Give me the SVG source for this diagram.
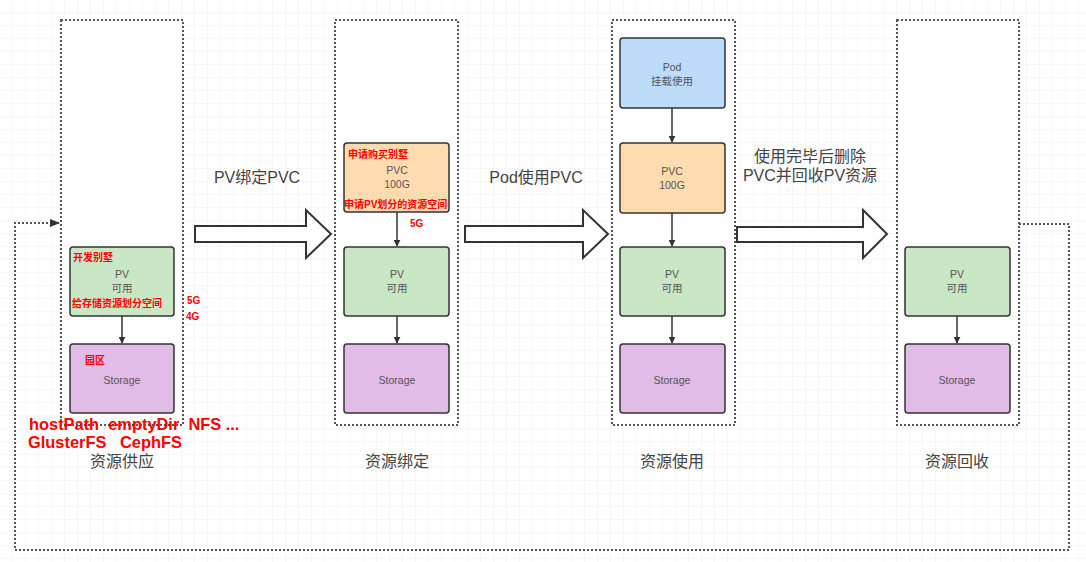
<svg xmlns="http://www.w3.org/2000/svg" width="1086" height="562" viewBox="0 0 1086 562">
<defs>
<pattern id="grid" width="13" height="13" patternUnits="userSpaceOnUse">
<path d="M13 0V13H0" fill="none" stroke="#eeeeee" stroke-width="1"/>
</pattern>
<marker id="ah" viewBox="0 0 10 10" refX="9" refY="5" markerWidth="7" markerHeight="7" orient="auto" markerUnits="userSpaceOnUse">
<path d="M0 0L10 5L0 10z" fill="#333"/>
</marker>
<marker id="ah2" viewBox="0 0 10 10" refX="9" refY="5" markerWidth="10" markerHeight="10" orient="auto" markerUnits="userSpaceOnUse">
<path d="M0 1L10 5L0 9z" fill="#333"/>
</marker>
<style>
.cont{fill:#fff;stroke:#555;stroke-width:2;stroke-dasharray:2 2}
.box{stroke:#333;stroke-width:1.5}
.pv{fill:#c9e6c5}
.st{fill:#e0bce6}
.pvc{fill:#fedcb0}
.pod{fill:#bcdcfa}
.t{font-family:"Liberation Sans","Noto Sans CJK SC",sans-serif;fill:#555;font-size:10.5px;text-anchor:middle}
.lbl{font-family:"Liberation Sans","Noto Sans CJK SC",sans-serif;fill:#444;font-size:16px;text-anchor:middle}
.r{font-family:"Liberation Sans","Noto Sans CJK SC",sans-serif;fill:#ff0000;font-weight:bold;font-size:10px}
.rb{font-family:"Liberation Sans","Noto Sans CJK SC",sans-serif;fill:#ff0000;font-weight:bold;font-size:16.4px}
.big{fill:#fff;stroke:#333;stroke-width:2}
.ln{stroke:#333;stroke-width:1.5;fill:none}
</style>
</defs>
<rect width="1086" height="562" fill="#fff"/>
<rect width="1086" height="562" fill="url(#grid)"/>

<g id="containers">
<rect class="cont" x="61" y="20" width="122" height="405"/>
<rect class="cont" x="335" y="20" width="123" height="405"/>
<rect class="cont" x="612" y="20" width="123" height="405"/>
<rect class="cont" x="897" y="20" width="122" height="405"/>
</g>

<g id="connectors">
<path d="M1019 224H1069V550H15V223H59" fill="none" stroke="#555" stroke-width="2" stroke-dasharray="2 2" marker-end="url(#ah2)"/>
<line class="ln" x1="122" y1="316" x2="122" y2="343" marker-end="url(#ah)"/>
<line class="ln" x1="397" y1="212" x2="397" y2="246" marker-end="url(#ah)"/>
<line class="ln" x1="397" y1="316" x2="397" y2="343" marker-end="url(#ah)"/>
<line class="ln" x1="672" y1="108" x2="672" y2="142" marker-end="url(#ah)"/>
<line class="ln" x1="672" y1="213" x2="672" y2="246" marker-end="url(#ah)"/>
<line class="ln" x1="672" y1="316" x2="672" y2="343" marker-end="url(#ah)"/>
<line class="ln" x1="957" y1="316" x2="957" y2="343" marker-end="url(#ah)"/>
<path class="big" d="M195 226H306V210L331 234L306 258V242H195Z"/>
<path class="big" d="M465 226H583V210L608 234L583 258V242H465Z"/>
<path class="big" d="M737 227H863V210L887 234L863 258V242H737Z"/>
</g>

<g id="pv1">
<rect class="box pv" x="70" y="247" width="104" height="69" rx="3"/>
<text class="t" x="122" y="278">PV</text>
<text class="t" x="122" y="292">可用</text>
<text class="r" x="73" y="261">开发别墅</text>
<text class="r" x="72" y="307">给存储资源划分空间</text>
</g>
<g id="storage1">
<rect class="box st" x="70" y="344" width="104" height="69" rx="3"/>
<text class="t" x="122" y="384">Storage</text>
<text class="r" x="85" y="364">园区</text>
</g>
<text class="r" x="187" y="304" font-size="9">5G</text>
<text class="r" x="186" y="320" font-size="9">4G</text>

<g id="pvc2">
<rect class="box pvc" x="344" y="143" width="105" height="69" rx="3"/>
<text class="t" x="397" y="174">PVC</text>
<text class="t" x="397" y="188">100G</text>
<text class="r" x="348" y="158">申请购买别墅</text>
<text class="r" x="344" y="208" font-size="9.6">申请PV划分的资源空间</text>
</g>
<text class="r" x="410" y="227" font-size="9">5G</text>
<g id="pv2">
<rect class="box pv" x="344" y="247" width="105" height="69" rx="3"/>
<text class="t" x="397" y="278">PV</text>
<text class="t" x="397" y="292">可用</text>
</g>
<g id="storage2">
<rect class="box st" x="344" y="344" width="105" height="69" rx="3"/>
<text class="t" x="397" y="384">Storage</text>
</g>

<g id="pod3">
<rect class="box pod" x="620" y="38" width="105" height="70" rx="3"/>
<text class="t" x="672" y="71">Pod</text>
<text class="t" x="672" y="85">挂载使用</text>
</g>
<g id="pvc3">
<rect class="box pvc" x="620" y="143" width="105" height="70" rx="3"/>
<text class="t" x="672" y="175">PVC</text>
<text class="t" x="672" y="189">100G</text>
</g>
<g id="pv3">
<rect class="box pv" x="620" y="247" width="105" height="69" rx="3"/>
<text class="t" x="672" y="278">PV</text>
<text class="t" x="672" y="292">可用</text>
</g>
<g id="storage3">
<rect class="box st" x="620" y="344" width="105" height="69" rx="3"/>
<text class="t" x="672" y="384">Storage</text>
</g>

<g id="pv4">
<rect class="box pv" x="905" y="247" width="105" height="69" rx="3"/>
<text class="t" x="957" y="278">PV</text>
<text class="t" x="957" y="292">可用</text>
</g>
<g id="storage4">
<rect class="box st" x="905" y="344" width="105" height="69" rx="3"/>
<text class="t" x="957" y="384">Storage</text>
</g>

<g id="labels">
<text class="lbl" x="257" y="183">PV绑定PVC</text>
<text class="lbl" x="536" y="183">Pod使用PVC</text>
<text class="lbl" x="810" y="162">使用完毕后删除</text>
<text class="lbl" x="810" y="181">PVC并回收PV资源</text>
<text class="lbl" x="122" y="467">资源供应</text>
<text class="lbl" x="397" y="467">资源绑定</text>
<text class="lbl" x="672" y="467">资源使用</text>
<text class="lbl" x="957" y="467">资源回收</text>
<text class="rb" x="29" y="430" xml:space="preserve">hostPath  emptyDir  NFS ...</text>
<text class="rb" x="28" y="448" xml:space="preserve">GlusterFS   CephFS</text>
</g>
</svg>
